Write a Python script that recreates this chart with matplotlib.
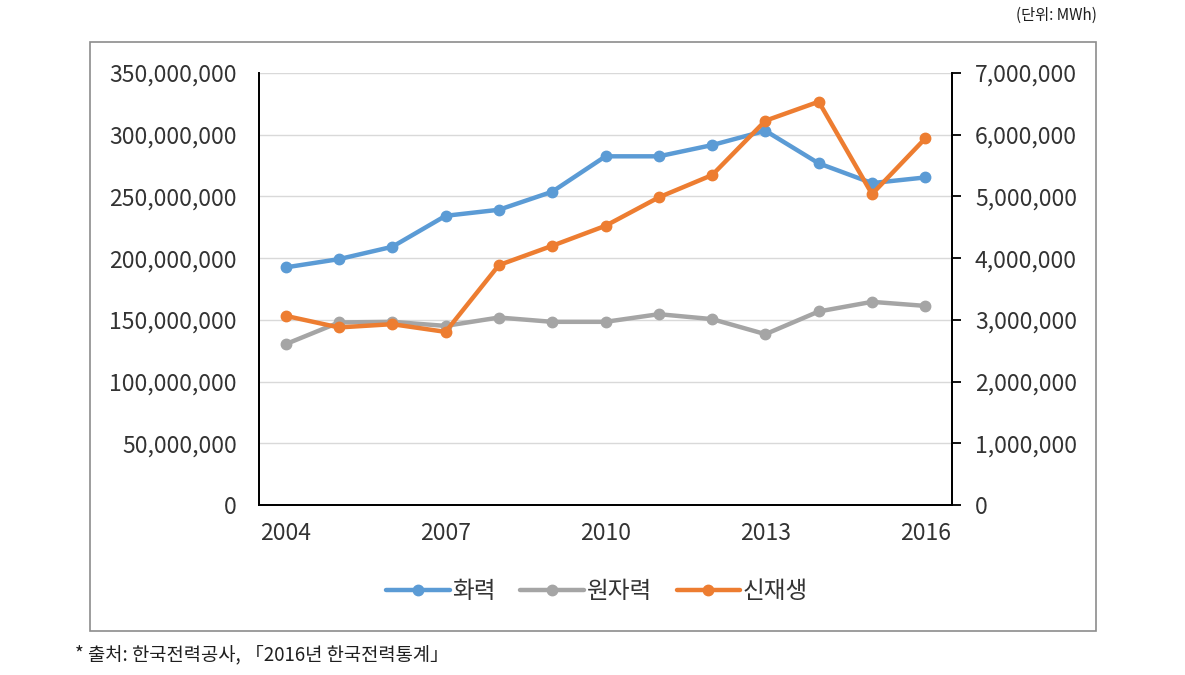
""" 발전원별 발전량 추이 (화력 / 원자력 / 신재생). """

import matplotlib
matplotlib.use('Agg')
import matplotlib.pyplot as plt
from matplotlib.patches import Rectangle
from matplotlib.ticker import FuncFormatter, MultipleLocator


""" Data """

years = [2004, 2005, 2006, 2007, 2008, 2009, 2010, 2011, 2012, 2013, 2014, 2015, 2016]
fossil = [192.5e6, 199.2e6, 209.2e6, 234.3e6, 239.2e6, 253.8e6, 282.5e6,
          282.5e6, 291.6e6, 303.2e6, 276.8e6, 260.8e6, 265.4e6]
nuclear = [130.3e6, 147.9e6, 148.4e6, 145.1e6, 151.9e6, 148.4e6, 148.4e6,
           154.6e6, 150.6e6, 138.4e6, 156.8e6, 164.6e6, 161.3e6]
renewable = [3.065e6, 2.877e6, 2.930e6, 2.805e6, 3.887e6, 4.200e6, 4.524e6,
             4.985e6, 5.346e6, 6.227e6, 6.535e6, 5.038e6, 5.941e6]
x_ticks = [2004, 2007, 2010, 2013, 2016]
labels = ['화력', '원자력', '신재생']

""" Style """

plt.rcParams['font.family'] = ['Noto Sans CJK KR', 'DejaVu Sans']
BLUE, GRAY, ORANGE = '#5B9BD5', '#A5A5A5', '#ED7D31'
TEXT = '#333333'

fig = plt.figure(figsize=(11.85, 6.75), dpi=100)
fig.patches.append(Rectangle((90 / 1185, 1 - 631 / 675), 1006 / 1185, 589 / 675,
                             transform=fig.transFigure, fill=False,
                             edgecolor='#8C8C8C', linewidth=1.2))

ax = fig.add_axes([259 / 1185, 1 - 505 / 675, 693 / 1185, 432 / 675])
ax2 = ax.twinx()

line_kw = dict(linewidth=3.2, marker='o', markersize=7.5, solid_capstyle='round')
h1, = ax.plot(years, fossil, color=BLUE, **line_kw)
h2, = ax.plot(years, nuclear, color=GRAY, **line_kw)
h3, = ax2.plot(years, renewable, color=ORANGE, **line_kw)

ax.set_xlim(2003.5, 2016.5)
ax.set_ylim(0, 350e6)
ax2.set_ylim(0, 7e6)
ax.yaxis.set_major_locator(MultipleLocator(50e6))
ax2.yaxis.set_major_locator(MultipleLocator(1e6))
ax.set_xticks(x_ticks)

fmt = FuncFormatter(lambda v, p: f'{int(round(v)):,}')
ax.yaxis.set_major_formatter(fmt)
ax2.yaxis.set_major_formatter(fmt)

ax.grid(axis='y', color='#D9D9D9', linewidth=1)
ax.set_axisbelow(True)

for a in (ax, ax2):
    a.spines['top'].set_visible(False)
    for s in ('left', 'right', 'bottom'):
        a.spines[s].set_color('black')
        a.spines[s].set_linewidth(1.3)

ax.tick_params(axis='y', length=0, pad=16, labelsize=16.5, labelcolor=TEXT)
ax.tick_params(axis='x', length=0, pad=12, labelsize=16.5, labelcolor=TEXT)
ax2.tick_params(axis='y', length=6.5, width=1.3, pad=10, labelsize=16.5, labelcolor=TEXT)

fig.legend([h1, h2, h3], labels, loc='center', bbox_to_anchor=(597 / 1185, 1 - 592 / 675),
           ncol=3, frameon=False, fontsize=17, handlelength=2.7, columnspacing=1.05,
           handletextpad=0.1, labelcolor=TEXT)

fig.text(1097 / 1185, 1 - 15 / 675, '(단위: MWh)', ha='right', va='center',
         fontsize=11, color='#1F1F1F')
fig.text(75 / 1185, 1 - 655 / 675, '* 출처: 한국전력공사, 「2016년 한국전력통계」',
         ha='left', va='center', fontsize=13.5, color='#1F1F1F')

fig.savefig('out.png', dpi=100)
